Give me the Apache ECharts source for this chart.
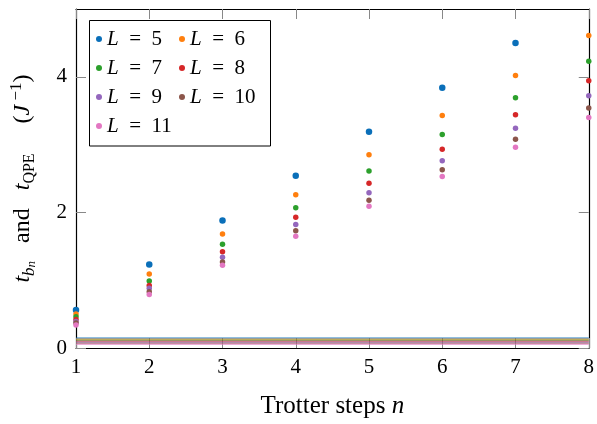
<!DOCTYPE html>
<html>
<head>
<meta charset="utf-8">
<script src="https://cdn.jsdelivr.net/npm/echarts@6/dist/echarts.min.js"></script>
<style>
  html, body { margin: 0; padding: 0; background: #fff; }
  #chart { width: 597px; height: 424px; }
</style>
</head>
<body>
<div id="chart"></div>
<script>
// Trotter steps and the per-size times (units of 1/J)
const steps = [1, 2, 3, 4, 5, 6, 7, 8]
const sizes = [5, 6, 7, 8, 9, 10, 11]
const tL5 = [0.56, 1.23, 1.88, 2.54, 3.19, 3.84, 4.50, 5.15]
const tL6 = [0.50, 1.09, 1.68, 2.26, 2.85, 3.43, 4.02, 4.61]
const tL7 = [0.46, 0.99, 1.53, 2.07, 2.61, 3.15, 3.69, 4.23]
const tL8 = [0.42, 0.92, 1.42, 1.93, 2.43, 2.93, 3.44, 3.94]
const tL9 = [0.39, 0.88, 1.34, 1.82, 2.29, 2.76, 3.24, 3.72]
const tL10 = [0.37, 0.83, 1.27, 1.73, 2.18, 2.63, 3.08, 3.54]
const tL11 = [0.34, 0.79, 1.22, 1.65, 2.09, 2.53, 2.96, 3.40]
// t_QPE, one flat value per size
const tQPE = [0.145, 0.13, 0.115, 0.10, 0.085, 0.07, 0.055]
const yTicks = [0, 2, 4]

const colors = ['#0a6fb9', '#ff7f0e', '#2ca02c', '#d62728', '#9467bd', '#8c564b', '#e377c2']
const tb = [tL5, tL6, tL7, tL8, tL9, tL10, tL11]
const font = 'Liberation Serif'
const names = sizes.map(L => 'L = ' + L)

const series = []
// QPE lines first so the dots sit on top
sizes.forEach((L, i) => {
    series.push({
        name: 'QPE ' + L,
        type: 'line',
        data: [[steps[0], tQPE[i]], [steps[steps.length - 1], tQPE[i]]],
        symbol: 'none',
        lineStyle: { color: colors[i], width: 1.6, opacity: 0.6 },
        silent: true,
        z: 1
    })
})
sizes.forEach((L, i) => {
    series.push({
        name: names[i],
        type: 'scatter',
        data: steps.map((s, k) => [s, tb[i][k]]),
        symbolSize: i === 0 ? 6.5 : 5.5,
        itemStyle: { color: colors[i], opacity: 1 },
        clip: true,
        z: 3
    })
})

const legendText = {
    fontFamily: font, fontSize: 21, color: '#000', lineHeight: 22,
    rich: { i: { fontFamily: font, fontStyle: 'italic', fontSize: 21, lineHeight: 22 } }
}
const legendBase = {
    orient: 'vertical',
    top: 28,
    itemWidth: 6,
    itemHeight: 6,
    itemGap: 7,
    icon: 'circle',
    padding: 0,
    textStyle: legendText,
    formatter: n => '{i|L}  =  ' + n.slice(4),
    z: 10
}

const tickStyle = { show: true, inside: true, length: 10, lineStyle: { color: '#888', width: 1 } }
const lineBlack = { show: true, onZero: false, lineStyle: { color: '#000', width: 1.2 } }

const option = {
    animation: false,
    backgroundColor: '#fff',
    grid: { left: 73, right: 5, top: 9, bottom: 71.5, containLabel: false },
    xAxis: [
        {
            type: 'value', min: 1, max: 8, interval: 1,
            axisLine: lineBlack,
            axisTick: tickStyle,
            splitLine: { show: false },
            axisLabel: { fontFamily: font, fontSize: 21, color: '#000', margin: 9 },
            name: '{n|Trotter steps }{i|n}',
            nameLocation: 'middle',
            nameGap: 46,
            nameTextStyle: {
                rich: {
                    n: { fontFamily: font, fontSize: 25, color: '#000' },
                    i: { fontFamily: font, fontSize: 25, fontStyle: 'italic', color: '#000' }
                }
            }
        },
        {
            type: 'value', min: 1, max: 8, interval: 1, position: 'top',
            axisLine: lineBlack,
            axisTick: tickStyle,
            splitLine: { show: false },
            axisLabel: { show: false }
        }
    ],
    yAxis: [
        {
            type: 'value', min: 0, max: 5,
            axisLine: lineBlack,
            axisTick: Object.assign({ customValues: yTicks }, tickStyle),
            splitLine: { show: false },
            axisLabel: { customValues: yTicks, fontFamily: font, fontSize: 21, color: '#000', margin: 9 },
            name: '{i|t}{s1|b}{s2|n}{m|   and   }{i|t}{q|QPE}{m|     (}{i|J}{sup| −1}{m|)}',
            nameLocation: 'middle',
            nameRotate: 90,
            nameGap: 38,
            nameTextStyle: {
                rich: {
                    m: { fontFamily: font, fontSize: 24, color: '#000', lineHeight: 30 },
                    i: { fontFamily: font, fontSize: 24, fontStyle: 'italic', color: '#000', lineHeight: 30 },
                    s1: { fontFamily: font, fontSize: 17, fontStyle: 'italic', color: '#000', lineHeight: 13, verticalAlign: 'bottom' },
                    q: { fontFamily: font, fontSize: 16, color: '#000', lineHeight: 13, verticalAlign: 'bottom' },
                    s2: { fontFamily: font, fontSize: 13, fontStyle: 'italic', color: '#000', lineHeight: 7, verticalAlign: 'bottom' },
                    sup: { fontFamily: font, fontSize: 17, color: '#000', lineHeight: 15, verticalAlign: 'top' }
                }
            }
        },
        {
            type: 'value', min: 0, max: 5, position: 'right',
            axisLine: lineBlack,
            axisTick: Object.assign({ customValues: yTicks }, tickStyle),
            splitLine: { show: false },
            axisLabel: { show: false }
        }
    ],
    legend: [
        Object.assign({ left: 96, data: [names[0], names[2], names[4], names[6]] }, legendBase),
        Object.assign({ left: 179, data: [names[1], names[3], names[5]] }, legendBase)
    ],
    graphic: [{
        type: 'rect',
        shape: { x: 89.5, y: 20.5, width: 181, height: 125.5 },
        style: { fill: '#fff', stroke: '#000', lineWidth: 1 },
        z: 9
    }],
    series: series
}

const chart = echarts.init(document.getElementById('chart'), null, { renderer: 'canvas' })
chart.setOption(option)
</script>
</body>
</html>
